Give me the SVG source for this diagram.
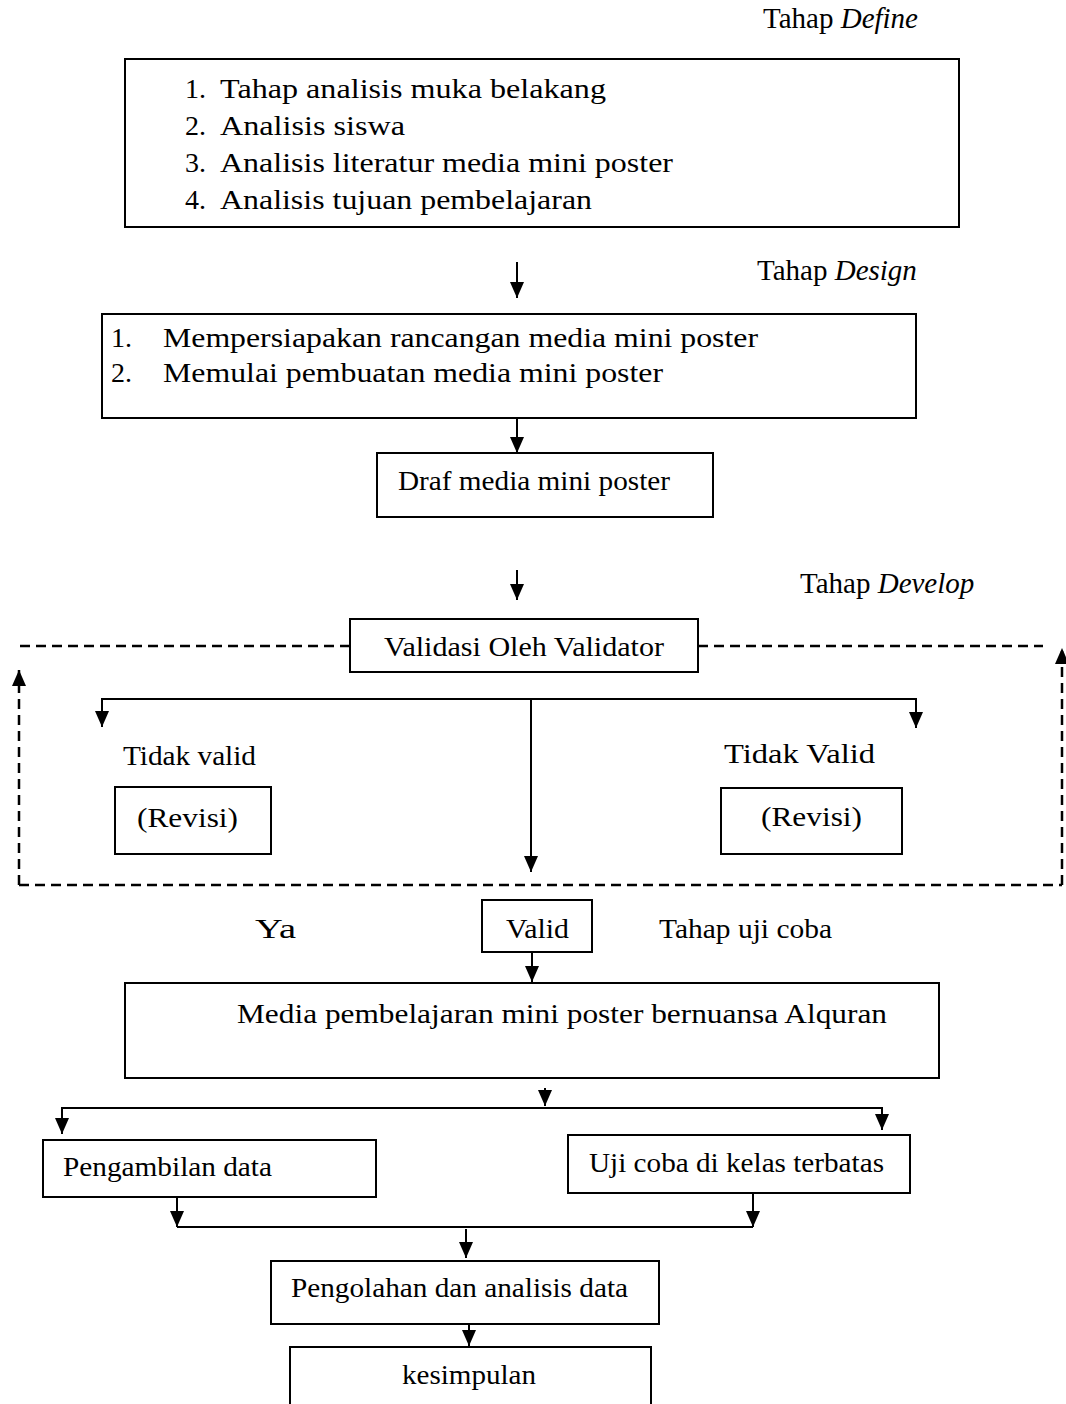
<svg xmlns="http://www.w3.org/2000/svg" width="1066" height="1404" viewBox="0 0 1066 1404">
<style>
.box{fill:#fff;stroke:#000;stroke-width:2}
.t{font-family:"Liberation Serif","Times New Roman",serif;font-size:28px;fill:#000}
.lab{font-family:"Liberation Serif","Times New Roman",serif;font-size:29px;fill:#000}
.c{stroke:#000;stroke-width:2;fill:none}
.d{stroke:#000;stroke-width:2.5;fill:none;stroke-dasharray:10 6}
</style>
<defs>
<marker id="ah" viewBox="0 0 16 14" refX="16" refY="7" markerWidth="16" markerHeight="14" markerUnits="userSpaceOnUse" orient="auto">
<path d="M0,0 L16,7 L0,14 z" fill="#000"/>
</marker>
</defs>
<rect width="1066" height="1404" fill="#fff"/>

<g id="labels">
<text class="lab" x="763" y="28">Tahap <tspan font-style="italic">Define</tspan></text>
<text class="lab" x="757" y="280">Tahap <tspan font-style="italic">Design</tspan></text>
<text class="lab" x="800" y="593">Tahap <tspan font-style="italic">Develop</tspan></text>
<text class="t" x="123" y="765" textLength="133" lengthAdjust="spacingAndGlyphs">Tidak valid</text>
<text class="t" x="724" y="763" font-size="30" textLength="151" lengthAdjust="spacingAndGlyphs">Tidak Valid</text>
<text class="t" x="255" y="938" textLength="41" lengthAdjust="spacingAndGlyphs">Ya</text>
<text class="t" x="659" y="938" textLength="173" lengthAdjust="spacingAndGlyphs">Tahap uji coba</text>
</g>

<g id="define">
<rect class="box" x="125" y="59" width="834" height="168"/>
<text class="t" x="185" y="98">1.</text>
<text class="t" x="220" y="98" textLength="386" lengthAdjust="spacingAndGlyphs">Tahap analisis muka belakang</text>
<text class="t" x="185" y="135">2.</text>
<text class="t" x="220" y="135" textLength="185" lengthAdjust="spacingAndGlyphs">Analisis siswa</text>
<text class="t" x="185" y="172">3.</text>
<text class="t" x="220" y="172" textLength="453" lengthAdjust="spacingAndGlyphs">Analisis literatur media mini poster</text>
<text class="t" x="185" y="209">4.</text>
<text class="t" x="220" y="209" textLength="372" lengthAdjust="spacingAndGlyphs">Analisis tujuan pembelajaran</text>
</g>

<g id="design">
<rect class="box" x="102" y="314" width="814" height="104"/>
<text class="t" x="111" y="347">1.</text>
<text class="t" x="163" y="347" textLength="595" lengthAdjust="spacingAndGlyphs">Mempersiapakan rancangan media mini poster</text>
<text class="t" x="111" y="382">2.</text>
<text class="t" x="163" y="382" textLength="500" lengthAdjust="spacingAndGlyphs">Memulai pembuatan media mini poster</text>
</g>

<g id="draf">
<rect class="box" x="377" y="453" width="336" height="64"/>
<text class="t" x="398" y="490" textLength="272" lengthAdjust="spacingAndGlyphs">Draf media mini poster</text>
</g>

<g id="validasi">
<rect class="box" x="350" y="619" width="348" height="53"/>
<text class="t" x="384" y="656" textLength="280" lengthAdjust="spacingAndGlyphs">Validasi Oleh Validator</text>
</g>

<g id="revisi-left">
<rect class="box" x="115" y="787" width="156" height="67"/>
<text class="t" x="137" y="827" textLength="101" lengthAdjust="spacingAndGlyphs">(Revisi)</text>
</g>

<g id="revisi-right">
<rect class="box" x="721" y="788" width="181" height="66"/>
<text class="t" x="761" y="826" textLength="101" lengthAdjust="spacingAndGlyphs">(Revisi)</text>
</g>

<g id="valid">
<rect class="box" x="482" y="900" width="110" height="52"/>
<text class="t" x="506" y="938" textLength="63" lengthAdjust="spacingAndGlyphs">Valid</text>
</g>

<g id="media">
<rect class="box" x="125" y="983" width="814" height="95"/>
<text class="t" x="237" y="1023" textLength="650" lengthAdjust="spacingAndGlyphs">Media pembelajaran mini poster bernuansa Alquran</text>
</g>

<g id="pengambilan">
<rect class="box" x="43" y="1140" width="333" height="57"/>
<text class="t" x="63" y="1176" textLength="209" lengthAdjust="spacingAndGlyphs">Pengambilan data</text>
</g>

<g id="ujicoba">
<rect class="box" x="568" y="1135" width="342" height="58"/>
<text class="t" x="589" y="1172" textLength="295" lengthAdjust="spacingAndGlyphs">Uji coba di kelas terbatas</text>
</g>

<g id="pengolahan">
<rect class="box" x="271" y="1261" width="388" height="63"/>
<text class="t" x="291" y="1297" textLength="337" lengthAdjust="spacingAndGlyphs">Pengolahan dan analisis data</text>
</g>

<g id="kesimpulan">
<rect class="box" x="290" y="1347" width="361" height="70"/>
<text class="t" x="402" y="1384" textLength="134" lengthAdjust="spacingAndGlyphs">kesimpulan</text>
</g>

<g id="connectors">
<line class="c" x1="517" y1="262" x2="517" y2="298" marker-end="url(#ah)"/>
<line class="c" x1="517" y1="418" x2="517" y2="453" marker-end="url(#ah)"/>
<line class="c" x1="517" y1="570" x2="517" y2="600" marker-end="url(#ah)"/>
<line class="c" x1="102" y1="699" x2="916" y2="699"/>
<line class="c" x1="102" y1="698" x2="102" y2="727" marker-end="url(#ah)"/>
<line class="c" x1="916" y1="698" x2="916" y2="728" marker-end="url(#ah)"/>
<line class="c" x1="531" y1="698" x2="531" y2="872" marker-end="url(#ah)" stroke-width="2.5"/>
<line class="d" x1="350" y1="646" x2="19" y2="646"/>
<line class="d" x1="698" y1="646" x2="1043" y2="646"/>
<line class="d" x1="19" y1="885" x2="1062" y2="885"/>
<line class="d" x1="19" y1="885" x2="19" y2="670" marker-end="url(#ah)"/>
<line class="d" x1="1062" y1="885" x2="1062" y2="648" marker-end="url(#ah)"/>
<line class="c" x1="532" y1="952" x2="532" y2="982" marker-end="url(#ah)"/>
<line class="c" x1="545" y1="1088" x2="545" y2="1106" marker-end="url(#ah)"/>
<line class="c" x1="62" y1="1108" x2="882" y2="1108"/>
<line class="c" x1="62" y1="1107" x2="62" y2="1134" marker-end="url(#ah)"/>
<line class="c" x1="882" y1="1107" x2="882" y2="1130" marker-end="url(#ah)"/>
<line class="c" x1="177" y1="1197" x2="177" y2="1227" marker-end="url(#ah)"/>
<line class="c" x1="753" y1="1193" x2="753" y2="1227" marker-end="url(#ah)"/>
<line class="c" x1="177" y1="1227" x2="753" y2="1227"/>
<line class="c" x1="466" y1="1229" x2="466" y2="1258" marker-end="url(#ah)"/>
<line class="c" x1="469" y1="1324" x2="469" y2="1346" marker-end="url(#ah)"/>
</g>
</svg>
